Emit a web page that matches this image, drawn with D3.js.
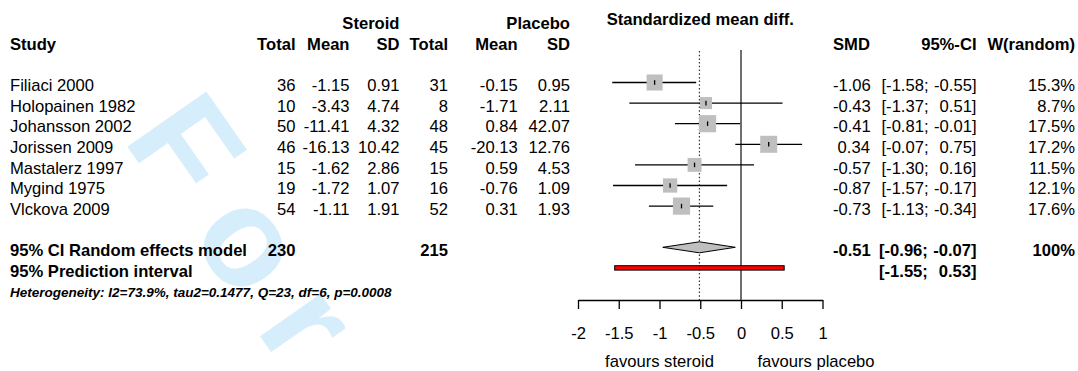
<!DOCTYPE html>
<html>
<head>
<meta charset="utf-8">
<script src="https://cdn.jsdelivr.net/npm/d3@7/dist/d3.min.js"></script>
<style>
  html, body { margin: 0; padding: 0; background: #fff; }
  svg { display: block; }
  text { font-family: "Liberation Sans", Arial, Helvetica, sans-serif; white-space: pre; }
</style>
</head>
<body>
<svg id="chart" width="1078" height="371"></svg>
<script>
// ---------------- data ----------------
const studies = ["Filiaci 2000", "Holopainen 1982", "Johansson 2002", "Jorissen 2009",
                 "Mastalerz 1997", "Mygind 1975", "Vlckova 2009"];
const steroidTotal = [36, 10, 50, 46, 15, 19, 54];
const steroidMean  = [-1.15, -3.43, -11.41, -16.13, -1.62, -1.72, -1.11];
const steroidSD    = [0.91, 4.74, 4.32, 10.42, 2.86, 1.07, 1.91];
const placeboTotal = [31, 8, 48, 45, 15, 16, 52];
const placeboMean  = [-0.15, -1.71, 0.84, -20.13, 0.59, -0.76, 0.31];
const placeboSD    = [0.95, 2.11, 42.07, 12.76, 4.53, 1.09, 1.93];
const smd          = [-1.06, -0.43, -0.41, 0.34, -0.57, -0.87, -0.73];
const ciLower      = [-1.58, -1.37, -0.81, -0.07, -1.30, -1.57, -1.13];
const ciUpper      = [-0.55, 0.51, -0.01, 0.75, 0.16, -0.17, -0.34];
const weightRandom = [15.3, 8.7, 17.5, 17.2, 11.5, 12.1, 17.6];
const pooledTotals = [230, 215];
const pooledSMD    = [-0.51, -0.96, -0.07];   // estimate, lower, upper
const predInterval = [-1.55, 0.53];
const xTicks       = [-2, -1.5, -1, -0.5, 0, 0.5, 1];
const heterogeneityText = "Heterogeneity: I2=73.9%, tau2=0.1477, Q=23, df=6, p=0.0008";
const watermarkText = "For Peer Review";

// ---------------- layout ----------------
const svg = d3.select("#chart");
const FS = 16.6;
const x = d3.scaleLinear().domain([-2, 1]).range([578, 822.5]);
const y = d3.scaleLinear().domain([0, 10]).range([82.5, 288.5]);   // mark centre per row
const base = i => y(i) + 8.6;                                        // text baseline per row
const f2 = v => v.toFixed(2);
const pad = v => (v < 0 ? f2(v) : " " + f2(v));

// watermark
svg.append("text")
  .attr("transform", "translate(122,139) rotate(55)")
  .attr("font-size", 140).attr("font-weight", "bold")
  .attr("letter-spacing", 30)
  .attr("fill", "#d6eefb")
  .text(watermarkText);

const col = { study: 10, sTot: 295.5, sMean: 349.5, sSD: 399.5, pTot: 448, pMean: 517.7, pSD: 570,
              smd: 833, ciL: 881.5, ciR: 976.5, w: 1075 };

function txt(xp, yp, s, anchor, bold, size, italic) {
  return svg.append("text").attr("x", xp).attr("y", yp)
    .attr("text-anchor", anchor || "start")
    .attr("font-size", size || FS)
    .attr("font-weight", bold ? "bold" : "normal")
    .attr("font-style", italic ? "italic" : "normal")
    .attr("fill", "#000")
    .text(s);
}

// headers
txt(col.sSD, 28.5, "Steroid", "end", true);
txt(col.pSD, 28.5, "Placebo", "end", true);
txt((x(-2) + x(1)) / 2, 25, "Standardized mean diff.", "middle", true);
const h2 = 49.5;
txt(col.study, h2, "Study", "start", true);
txt(col.sTot, h2, "Total", "end", true);
txt(col.sMean, h2, "Mean", "end", true);
txt(col.sSD, h2, "SD", "end", true);
txt(col.pTot, h2, "Total", "end", true);
txt(col.pMean, h2, "Mean", "end", true);
txt(col.pSD, h2, "SD", "end", true);
txt(col.smd, h2, "SMD", "start", true);
txt(col.ciR, h2, "95%-CI", "end", true);
txt(col.w, h2, "W(random)", "end", true);

// study rows text
studies.forEach((s, i) => {
  const b = base(i);
  txt(col.study, b, s);
  txt(col.sTot, b, String(steroidTotal[i]), "end");
  txt(col.sMean, b, f2(steroidMean[i]), "end");
  txt(col.sSD, b, f2(steroidSD[i]), "end");
  txt(col.pTot, b, String(placeboTotal[i]), "end");
  txt(col.pMean, b, f2(placeboMean[i]), "end");
  txt(col.pSD, b, f2(placeboSD[i]), "end");
  txt(col.smd, b, pad(smd[i]), "start");
  txt(col.ciL, b, "[" + f2(ciLower[i]) + ";", "start");
  txt(col.ciR, b, f2(ciUpper[i]) + "]", "end");
  txt(col.w, b, weightRandom[i].toFixed(1) + "%", "end");
});

// summary rows text
txt(col.study, base(8), "95% CI Random effects model", "start", true);
txt(col.sTot, base(8), String(pooledTotals[0]), "end", true);
txt(col.pTot, base(8), String(pooledTotals[1]), "end", true);
txt(col.smd, base(8), pad(pooledSMD[0]), "start", true);
txt(col.ciL - 2.5, base(8), "[" + f2(pooledSMD[1]) + ";", "start", true);
txt(col.ciR, base(8), f2(pooledSMD[2]) + "]", "end", true);
txt(col.w, base(8), "100%", "end", true);
txt(col.study, base(9), "95% Prediction interval", "start", true);
txt(col.ciL - 2.5, base(9), "[" + f2(predInterval[0]) + ";", "start", true);
txt(col.ciR, base(9), pad(predInterval[1]) + "]", "end", true);
txt(col.study, 297, heterogeneityText, "start", true, 13.5, true);

// ---------------- forest ----------------
const axisY = 300;
svg.append("line").attr("x1", x(0)).attr("x2", x(0)).attr("y1", 50).attr("y2", axisY)
  .attr("stroke", "#222").attr("stroke-width", 1.3);
svg.append("line").attr("x1", x(pooledSMD[0])).attr("x2", x(pooledSMD[0])).attr("y1", 51).attr("y2", axisY)
  .attr("stroke", "#333").attr("stroke-width", 1.2).attr("stroke-dasharray", "1.5,2.2");

const g = svg.append("g");
studies.forEach((s, i) => {
  const cy = y(i);
  g.append("line").attr("x1", x(ciLower[i])).attr("x2", x(ciUpper[i]))
    .attr("y1", cy).attr("y2", cy).attr("stroke", "#000").attr("stroke-width", 1.3);
  const side = 4.1 * Math.sqrt(weightRandom[i]);
  g.append("rect").attr("x", x(smd[i]) - side / 2).attr("y", cy - side / 2)
    .attr("width", side).attr("height", side).attr("fill", "#bfbfbf");
  g.append("line").attr("x1", x(smd[i])).attr("x2", x(smd[i]))
    .attr("y1", cy - 2.3).attr("y2", cy + 2.3).attr("stroke", "#000").attr("stroke-width", 1.3);
});

const dy = y(8);
g.append("path")
  .attr("d", `M${x(pooledSMD[1])},${dy} L${x(pooledSMD[0])},${dy - 5.5} L${x(pooledSMD[2])},${dy} L${x(pooledSMD[0])},${dy + 5.5} Z`)
  .attr("fill", "#bfbfbf").attr("stroke", "#000").attr("stroke-width", 1);

const py = y(9);
g.append("rect").attr("x", x(predInterval[0])).attr("y", py - 2.2)
  .attr("width", x(predInterval[1]) - x(predInterval[0])).attr("height", 4.4)
  .attr("fill", "#ff0000").attr("stroke", "#000").attr("stroke-width", 1);

const axis = d3.axisBottom(x).tickValues(xTicks).tickSize(9).tickSizeOuter(0).tickPadding(18)
  .tickFormat(d => String(d));
const ax = svg.append("g").attr("transform", `translate(0,${axisY})`).call(axis);
ax.select(".domain").attr("stroke", "#000").attr("stroke-width", 1.3);
ax.selectAll(".tick line").attr("stroke", "#000").attr("stroke-width", 1.3);
ax.selectAll(".tick text").attr("font-size", FS).attr("fill", "#000")
  .attr("font-family", "Liberation Sans, Arial, sans-serif");

txt(x(-1), 367, "favours steroid", "middle");
txt(816, 367, "favours placebo", "middle");
</script>
</body>
</html>
